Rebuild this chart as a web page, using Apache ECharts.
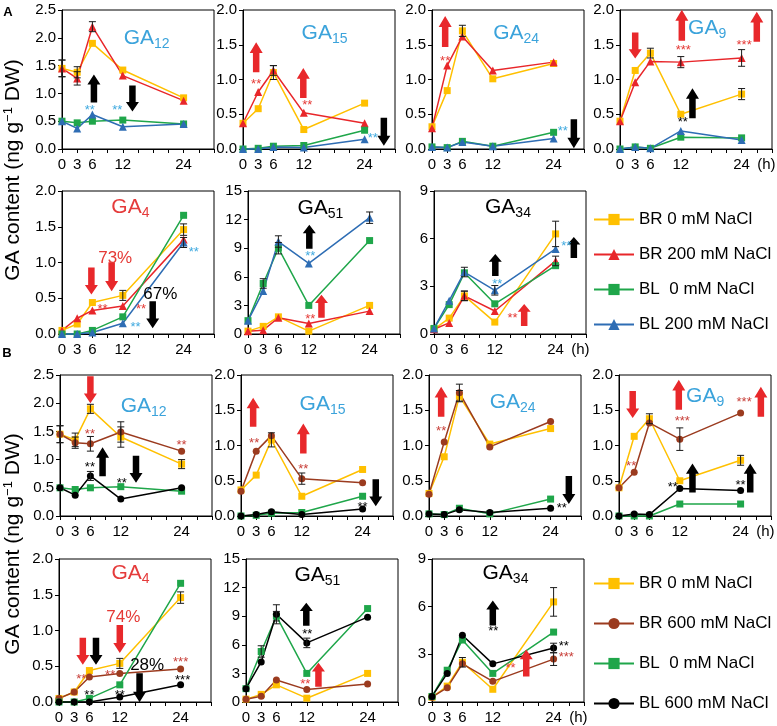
<!DOCTYPE html>
<html><head><meta charset="utf-8">
<script src="https://cdn.jsdelivr.net/npm/echarts@6/dist/echarts.min.js"></script>
<style>html,body{margin:0;padding:0;background:#fff}#c{width:777px;height:726px}</style>
</head><body><div id="c"></div>
<script>
// ---------------- DATA ----------------
const hours = [0, 3, 6, 12, 24];
const namesA = ['BR 0 mM NaCl', 'BR 200 mM NaCl', 'BL  0 mM NaCl', 'BL 200 mM NaCl'];
const namesB = ['BR 0 mM NaCl', 'BR 600 mM NaCl', 'BL  0 mM NaCl', 'BL 600 mM NaCl'];

// rows: BR0, BR salt, BL0, BL salt
const A_GA12 = [[1.45,1.38,1.90,1.42,0.92],[1.45,1.27,2.20,1.32,0.87],[0.50,0.47,0.50,0.52,0.45],[0.50,0.37,0.62,0.40,0.45]];
const A_GA15 = [[0.37,0.58,1.10,0.28,0.66],[0.37,0.82,1.13,0.52,0.37],[0.00,0.01,0.04,0.05,0.27],[0.00,0.00,0.03,0.02,0.14]];
const A_GA24 = [[0.32,0.84,1.70,1.01,1.23],[0.30,1.20,1.62,1.13,1.25],[0.03,0.02,0.11,0.04,0.24],[0.03,0.02,0.10,0.04,0.15]];
const A_GA9  = [[0.40,1.13,1.38,0.50,0.79],[0.40,0.96,1.26,1.25,1.31],[0.00,0.03,0.01,0.17,0.16],[0.00,0.03,0.01,0.26,0.13]];
const A_GA4  = [[0.05,0.14,0.44,0.54,1.46],[0.05,0.22,0.33,0.39,1.32],[0.00,0.00,0.05,0.24,1.66],[0.00,0.00,0.02,0.15,1.28]];
const A_GA51 = [[0.3,0.8,1.8,0.3,3.0],[0.3,0.4,1.7,1.1,2.4],[1.4,5.3,9.0,3.0,9.8],[1.4,4.5,9.7,7.4,12.2]];
const A_GA34 = [[0.3,1.0,2.4,0.75,6.3],[0.3,0.7,2.4,1.45,4.6],[0.35,1.85,3.85,1.9,4.3],[0.35,2.1,3.9,2.75,5.35]];

const B_GA12 = [[1.45,1.35,1.90,1.40,0.92],[1.45,1.30,1.28,1.49,1.15],[0.50,0.47,0.50,0.52,0.44],[0.50,0.37,0.71,0.30,0.50]];
const B_GA15 = [[0.37,0.58,1.08,0.28,0.66],[0.35,0.92,1.14,0.53,0.47],[0.00,0.01,0.04,0.05,0.28],[0.00,0.02,0.06,0.02,0.10]];
const B_GA24 = [[0.32,0.84,1.70,1.02,1.24],[0.31,1.05,1.75,0.98,1.34],[0.03,0.02,0.11,0.03,0.24],[0.03,0.02,0.09,0.05,0.11]];
const B_GA9  = [[0.40,1.13,1.38,0.50,0.79],[0.40,0.62,1.32,1.09,1.46],[0.00,0.00,0.00,0.17,0.17],[0.00,0.03,0.02,0.39,0.36]];
const B_GA4  = [[0.05,0.14,0.44,0.54,1.46],[0.05,0.14,0.35,0.40,0.46],[0.00,0.00,0.05,0.24,1.66],[0.00,0.00,0.00,0.07,0.24]];
const B_GA51 = [[0.3,0.8,1.8,0.4,3.0],[0.3,0.6,2.3,1.3,1.9],[1.4,5.3,9.0,3.0,9.8],[1.4,4.2,9.2,6.2,8.9]];
const B_GA34 = [[0.3,1.0,2.5,0.8,6.3],[0.3,0.9,2.4,1.3,2.7],[0.35,2.0,3.9,1.8,4.4],[0.35,1.8,4.2,2.4,3.4]];

// error (± SD) estimates
const A_GA12_err = [[0.15,0.10,0.07,0.05,0.04],[0.15,0.12,0.09,0.08,0.06],[0.02,0.02,0.02,0.02,0.02],[0.02,0.02,0.03,0.02,0.02]];
const A_GA15_err = [[0.03,0.03,0.10,0.02,0.04],[0.03,0.04,0.07,0.06,0.02],[0.01,0.01,0.01,0.01,0.01],[0.01,0.01,0.01,0.01,0.01]];
const A_GA24_err = [[0.02,0.04,0.08,0.06,0.05],[0.02,0.02,0.05,0.04,0.06],[0.01,0.01,0.01,0.01,0.01],[0.01,0.01,0.01,0.01,0.01]];
const A_GA9_err  = [[0.02,0.03,0.07,0.02,0.08],[0.02,0.03,0.04,0.08,0.12],[0.01,0.01,0.01,0.02,0.02],[0.01,0.01,0.01,0.06,0.02]];
const A_GA4_err  = [[0.01,0.02,0.04,0.07,0.08],[0.01,0.02,0.02,0.03,0.06],[0.01,0.01,0.01,0.02,0.03],[0.01,0.01,0.01,0.02,0.07]];
const A_GA51_err = [[0.1,0.1,0.2,0.1,0.4],[0.1,0.1,0.2,0.1,0.2],[0.2,0.5,0.6,0.2,0.4],[0.2,0.4,0.6,0.2,0.6]];
const A_GA34_err = [[0.1,0.2,0.3,0.1,0.8],[0.1,0.1,0.3,0.2,0.3],[0.1,0.1,0.2,0.2,0.2],[0.1,0.2,0.3,0.3,0.2]];

const B_GA12_err = [[0.15,0.12,0.08,0.18,0.08],[0.15,0.10,0.13,0.18,0.04],[0.02,0.02,0.02,0.02,0.02],[0.02,0.02,0.08,0.02,0.02]];
const B_GA15_err = [[0.03,0.03,0.10,0.02,0.04],[0.03,0.03,0.06,0.08,0.02],[0.01,0.01,0.01,0.01,0.01],[0.01,0.01,0.01,0.01,0.01]];
const B_GA24_err = [[0.02,0.04,0.08,0.06,0.05],[0.02,0.02,0.12,0.03,0.06],[0.01,0.01,0.01,0.01,0.01],[0.01,0.01,0.01,0.01,0.01]];
const B_GA9_err  = [[0.02,0.03,0.07,0.02,0.07],[0.02,0.02,0.04,0.16,0.03],[0.01,0.01,0.01,0.02,0.02],[0.01,0.01,0.01,0.02,0.02]];
const B_GA4_err  = [[0.01,0.02,0.04,0.07,0.08],[0.01,0.02,0.02,0.02,0.02],[0.01,0.01,0.01,0.02,0.03],[0.01,0.01,0.01,0.01,0.02]];
const B_GA51_err = [[0.1,0.1,0.2,0.1,0.4],[0.1,0.1,0.2,0.1,0.1],[0.2,0.6,0.5,0.2,0.3],[0.2,0.2,1.0,0.5,0.4]];
const B_GA34_err = [[0.1,0.2,0.3,0.1,0.9],[0.1,0.1,0.2,0.1,0.4],[0.1,0.1,0.2,0.2,0.2],[0.1,0.1,0.2,0.2,0.3]];

// ---------------- STYLE ----------------
const FONT = 'Liberation Sans, Arial, sans-serif';
const BLUE_T = '#3BA3DB', RED_T = '#E53B3B';
const SB = '#3FA9DF', SR = '#E53935', SBR = '#C8403A', K = '#000';
const ARROW_RED = '#E8282B';
const stylesA = [{c:'#FFC000',s:'rect'},{c:'#E8262A',s:'triangle'},{c:'#1FA64A',s:'rect'},{c:'#2E6DB4',s:'triangle'}];
const stylesB = [{c:'#FFC000',s:'rect'},{c:'#9B3B1F',s:'circle'},{c:'#1FA64A',s:'rect'},{c:'#000000',s:'circle'}];

const panels = [
  {d:A_GA12,e:A_GA12_err,set:'A',g:[62,10],ymax:2.5,yi:0.5,
   anno:[{ti:'12',x:16.7,y:2.0,c:BLUE_T},{t:'up',x:6.3,y:1.09,h:28,c:'k'},{t:'down',x:13.9,y:0.91,h:26,c:'k'},{s:'**',x:5.5,y:0.75,c:SB},{s:'**',x:10.9,y:0.75,c:SB}]},
  {d:A_GA15,e:A_GA15_err,set:'A',g:[243,10],ymax:2,yi:0.5,
   anno:[{ti:'15',x:16.1,y:1.67,c:BLUE_T},{t:'up',x:2.6,y:1.32,h:30,c:'r'},{t:'up',x:11.9,y:0.95,h:30,c:'r'},{t:'down',x:27.8,y:0.25,h:28,c:'k'},{s:'**',x:2.6,y:0.97,c:SR},{s:'**',x:12.7,y:0.67,c:SR},{s:'**',x:25.6,y:0.2,c:SB}]},
  {d:A_GA24,e:A_GA24_err,set:'A',g:[432,10],ymax:2,yi:0.5,
   anno:[{ti:'24',x:16.6,y:1.67,c:BLUE_T},{t:'up',x:2.6,y:1.69,h:31,c:'r'},{t:'down',x:28,y:0.22,h:29,c:'k'},{s:'**',x:2.6,y:1.3,c:SR},{s:'**',x:25.8,y:0.29,c:SB}]},
  {d:A_GA9,e:A_GA9_err,set:'A',g:[620,10],ymax:2,yi:0.5,hLabel:true,
   anno:[{ti:'9',x:17.2,y:1.74,c:BLUE_T},{t:'down',x:3,y:1.49,h:26,c:'r'},{t:'up',x:12.2,y:1.78,h:31,c:'r'},{t:'up',x:27,y:1.76,h:30,c:'r'},{t:'up',x:14.3,y:0.66,h:30,c:'k'},{s:'***',x:12.5,y:1.46,c:SR},{s:'***',x:24.5,y:1.54,c:SR},{s:'**',x:12.4,y:0.43,c:K}]},
  {d:A_GA4,e:A_GA4_err,set:'A',g:[62,191],ymax:2,yi:0.5,
   anno:[{ti:'4',x:13.5,y:1.77,c:RED_T},{t:'down',x:5.8,y:0.74,h:27,c:'r'},{t:'down',x:9.8,y:0.8,h:29,c:'r'},{t:'down',x:17.9,y:0.27,h:27,c:'k'},{s:'73%',x:10.5,y:1.06,c:SR,fs:17},{s:'67%',x:19.4,y:0.55,c:K,fs:17},{s:'**',x:8,y:0.38,c:SR},{s:'**',x:15.6,y:0.39,c:SR},{s:'**',x:14.5,y:0.13,c:SB},{s:'**',x:26,y:1.18,c:SB}]},
  {d:A_GA51,e:A_GA51_err,set:'A',g:[248,191],ymax:15,yi:3,
   anno:[{ti:'51',x:14.3,y:13.2,c:K},{t:'up',x:12.1,y:10.2,h:24,c:'k'},{t:'up',x:14.5,y:2.9,h:23,c:'r'},{s:'**',x:12.3,y:8.4,c:SB},{s:'**',x:12.3,y:1.8,c:SR}]},
  {d:A_GA34,e:A_GA34_err,set:'A',g:[434,191],ymax:9,yi:3,hLabel:true,
   anno:[{ti:'34',x:14.6,y:8.0,c:K},{t:'up',x:12.1,y:4.35,h:22,c:'k'},{t:'up',x:17.8,y:1.2,h:22,c:'r'},{t:'up',x:27.6,y:5.45,h:21,c:'k'},{s:'**',x:12.5,y:3.3,c:SB},{s:'**',x:15.5,y:1.2,c:SR},{s:'**',x:26.1,y:5.7,c:SB}]},
  {d:B_GA12,e:B_GA12_err,set:'B',g:[60,375],ymax:2.5,yi:0.5,
   anno:[{ti:'12',x:16.5,y:1.94,c:BLUE_T},{t:'down',x:6,y:2.24,h:27,c:'r'},{t:'up',x:8.4,y:0.96,h:29,c:'k'},{t:'down',x:15,y:0.83,h:27,c:'k'},{s:'**',x:5.9,y:1.5,c:SBR},{s:'**',x:5.9,y:0.91,c:K},{s:'**',x:12.2,y:0.63,c:K},{s:'**',x:24,y:1.3,c:SBR}]},
  {d:B_GA15,e:B_GA15_err,set:'B',g:[241,375],ymax:2,yi:0.5,
   anno:[{ti:'15',x:16.1,y:1.58,c:BLUE_T},{t:'up',x:2.4,y:1.47,h:29,c:'r'},{t:'up',x:12.3,y:1.1,h:30,c:'r'},{t:'down',x:26.6,y:0.33,h:27,c:'k'},{s:'**',x:2.6,y:1.07,c:SBR},{s:'**',x:12.3,y:0.71,c:SBR},{s:'**',x:24,y:0.17,c:K}]},
  {d:B_GA24,e:B_GA24_err,set:'B',g:[429,375],ymax:2,yi:0.5,
   anno:[{ti:'24',x:16.5,y:1.62,c:BLUE_T},{t:'up',x:2.4,y:1.62,h:30,c:'r'},{t:'down',x:27.6,y:0.37,h:28,c:'k'},{s:'**',x:2.4,y:1.24,c:SBR},{s:'**',x:26.2,y:0.15,c:K}]},
  {d:B_GA9,e:B_GA9_err,set:'B',g:[619,375],ymax:2,yi:0.5,hLabel:true,
   anno:[{ti:'9',x:17.0,y:1.7,c:BLUE_T},{t:'down',x:2.7,y:1.58,h:27,c:'r'},{t:'up',x:11.8,y:1.72,h:30,c:'r'},{t:'up',x:28,y:1.62,h:30,c:'r'},{t:'up',x:14.5,y:0.54,h:29,c:'k'},{t:'up',x:25.9,y:0.54,h:29,c:'k'},{s:'***',x:12.5,y:1.38,c:SBR},{s:'***',x:24.7,y:1.65,c:SBR},{s:'**',x:2.4,y:0.74,c:SBR},{s:'**',x:10.6,y:0.45,c:K},{s:'**',x:24,y:0.48,c:K}]},
  {d:B_GA4,e:B_GA4_err,set:'B',g:[59,559],ymax:2,yi:0.5,
   anno:[{ti:'4',x:14.1,y:1.8,c:RED_T},{t:'down',x:4.7,y:0.71,h:27,c:'r'},{t:'down',x:7.3,y:0.71,h:27,c:'k'},{t:'down',x:12,y:0.88,h:28,c:'r'},{t:'down',x:15.9,y:0.2,h:29,c:'k'},{s:'74%',x:12.7,y:1.19,c:SR,fs:17},{s:'28%',x:17.4,y:0.52,c:K,fs:17},{s:'**',x:4.4,y:0.36,c:SBR},{s:'**',x:10.1,y:0.42,c:SBR},{s:'***',x:24,y:0.6,c:SBR},{s:'**',x:6,y:0.13,c:K},{s:'**',x:12,y:0.13,c:K},{s:'***',x:24.4,y:0.34,c:K}]},
  {d:B_GA51,e:B_GA51_err,set:'B',g:[246,559],ymax:15,yi:3,
   anno:[{ti:'51',x:14.1,y:13.3,c:K},{t:'up',x:11.9,y:9.2,h:23,c:'k'},{t:'up',x:14.3,y:2.85,h:24,c:'r'},{s:'**',x:12.1,y:7.4,c:K},{s:'**',x:11.7,y:2.2,c:SR}]},
  {d:B_GA34,e:B_GA34_err,set:'B',g:[432,559],ymax:9,yi:3,hLabel:true,
   anno:[{ti:'34',x:14.5,y:8.1,c:K},{t:'up',x:12,y:5.6,h:25,c:'k'},{t:'up',x:18.6,y:2.45,h:27,c:'r'},{s:'**',x:12.1,y:4.6,c:K},{s:'**',x:15.5,y:2.3,c:SR},{s:'**',x:26,y:3.7,c:K},{s:'***',x:26.5,y:3.0,c:SBR}]}
];
const rowH = {10:139, 191:143, 375:141, 559:143};

const ARROW = 'path://M6,0 L12,10 L9,10 L9,28 L3,28 L3,10 L0,10 Z';
const CLEAR = {color: 'rgba(0,0,0,0)', opacity: 1};

function annoItem(a) {
  const base = {value:[a.x, a.y]};
  if (a.t) {
    return Object.assign(base, {symbol: ARROW, symbolSize: [13, a.h], symbolRotate: a.t === 'down' ? 180 : 0,
      symbolKeepAspect: false, itemStyle: {color: a.c === 'r' ? ARROW_RED : '#000', opacity: 1}, label: {show: false}});
  }
  if (a.ti) {
    return Object.assign(base, {symbol: 'circle', symbolSize: 1, itemStyle: CLEAR,
      label: {show: true, position: 'inside', opacity: 1, formatter: '{m|GA}{s|' + a.ti + '}',
        rich: {m: {fontSize: 21, lineHeight: 26, color: a.c, fontFamily: FONT},
               s: {fontSize: 14, lineHeight: 14, padding: [12, 0, 0, 0], color: a.c, fontFamily: FONT}}}});
  }
  if (a.h2) {
    return Object.assign(base, {symbol: 'circle', symbolSize: 1, itemStyle: CLEAR,
      label: {show: true, position: 'inside', opacity: 1, formatter: '(h)', offset: [0, 16], color: '#000', fontSize: 15, fontFamily: FONT}});
  }
  return Object.assign(base, {symbol: 'circle', symbolSize: 1, itemStyle: CLEAR,
    label: {show: true, position: 'inside', opacity: 1, formatter: a.s, color: a.c, fontSize: a.fs || 13,
      offset: a.fs ? [0, 0] : [0, 3], fontFamily: FONT}});
}

const grids = [], xAxes = [], yAxes = [], series = [];
panels.forEach((p, idx) => {
  grids.push({left: p.g[0], top: p.g[1], width: 152, height: rowH[p.g[1]], show: true,
    borderColor: '#000', borderWidth: 1, backgroundColor: 'transparent', containLabel: false});
  xAxes.push({gridIndex: idx, type: 'value', min: 0, max: 30, interval: 3,
    axisLine: {show: true, lineStyle: {color: '#000', width: 1}},
    axisTick: {show: true, length: 4, lineStyle: {color: '#000'}},
    splitLine: {show: false},
    axisLabel: {show: true, margin: 8, color: '#000', fontSize: 15, fontFamily: FONT,
      formatter: v => (hours.indexOf(v) >= 0 ? String(v) : '')}});
  const dec = p.ymax <= 2.5 ? 1 : 0;
  yAxes.push({gridIndex: idx, type: 'value', min: 0, max: p.ymax, interval: p.yi,
    axisLine: {show: true, lineStyle: {color: '#000', width: 1}},
    axisTick: {show: true, length: 4, lineStyle: {color: '#000'}},
    splitLine: {show: false},
    axisLabel: {margin: 6, color: '#000', fontSize: 15, fontFamily: FONT, formatter: v => v.toFixed(dec)}});
  const names = p.set === 'A' ? namesA : namesB;
  const styles = p.set === 'A' ? stylesA : stylesB;
  // error bars
  const errData = [];
  p.d.forEach((row, i) => row.forEach((v, j) => errData.push([hours[j], v - p.e[i][j], v + p.e[i][j]])));
  series.push({type: 'custom', xAxisIndex: idx, yAxisIndex: idx, clip: false, z: 4, silent: true,
    encode: {x: 0, y: [1, 2]}, data: errData,
    renderItem: (params, api) => {
      const x = api.value(0);
      const hi = api.coord([x, api.value(2)]), lo = api.coord([x, api.value(1)]);
      if (Math.abs(lo[1] - hi[1]) < 9) return null;
      const w = 3.5, st = {stroke: '#1a1a1a', lineWidth: 1};
      return {type: 'group', children: [
        {type: 'line', shape: {x1: hi[0], y1: hi[1], x2: lo[0], y2: lo[1]}, style: st},
        {type: 'line', shape: {x1: hi[0] - w, y1: hi[1], x2: hi[0] + w, y2: hi[1]}, style: st},
        {type: 'line', shape: {x1: lo[0] - w, y1: lo[1], x2: lo[0] + w, y2: lo[1]}, style: st}]};
    }});
  p.d.forEach((row, i) => {
    series.push({type: 'line', name: names[i], xAxisIndex: idx, yAxisIndex: idx, clip: false,
      data: row.map((v, j) => [hours[j], v]), symbol: styles[i].s, symbolSize: styles[i].s === 'triangle' ? 8 : 7,
      color: styles[i].c, lineStyle: {color: styles[i].c, width: 1.5}, itemStyle: {color: styles[i].c, opacity: 1},
      z: 3, animation: false});
  });
  const anno = p.anno.slice();
  if (p.hLabel) anno.push({h2: true, x: 28.9, y: 0});
  series.push({type: 'scatter', xAxisIndex: idx, yAxisIndex: idx, clip: false, z: 6, silent: true,
    itemStyle: {opacity: 1}, data: anno.map(annoItem), animation: false});
});

const legendCommon = {orient: 'vertical', left: 593, itemWidth: 40, itemHeight: 14, padding: 0,
  selectedMode: false, textStyle: {fontSize: 17, color: '#000', fontFamily: FONT, overflow: 'none'}};
const option = {
  animation: false,
  backgroundColor: '#fff',
  textStyle: {fontFamily: FONT},
  grid: grids, xAxis: xAxes, yAxis: yAxes, series: series,
  legend: [
    Object.assign({data: namesA, top: 211, itemGap: 18}, legendCommon),
    Object.assign({data: namesB, top: 575, itemGap: 23}, legendCommon)
  ],
  graphic: [
    {type: 'text', x: 8, y: 12, style: {text: 'A', font: 'bold 13px ' + FONT, fill: '#000', align: 'center', verticalAlign: 'middle'}},
    {type: 'text', x: 7, y: 353, style: {text: 'B', font: 'bold 13px ' + FONT, fill: '#000', align: 'center', verticalAlign: 'middle'}},
    {type: 'text', x: 13, y: 170, rotation: Math.PI / 2,
     style: {text: 'GA content (ng g{s|−1} DW)', font: '21px ' + FONT, fill: '#000', align: 'center', verticalAlign: 'middle',
       rich: {s: {fontSize: 13, padding: [0, 0, 10, 0], fill: '#000'}}}},
    {type: 'text', x: 13, y: 544, rotation: Math.PI / 2,
     style: {text: 'GA content (ng g{s|−1} DW)', font: '21px ' + FONT, fill: '#000', align: 'center', verticalAlign: 'middle',
       rich: {s: {fontSize: 13, padding: [0, 0, 10, 0], fill: '#000'}}}}
  ]
};
const chart = echarts.init(document.getElementById('c'), null, {renderer: 'canvas'});
chart.setOption(option);
</script></body></html>
